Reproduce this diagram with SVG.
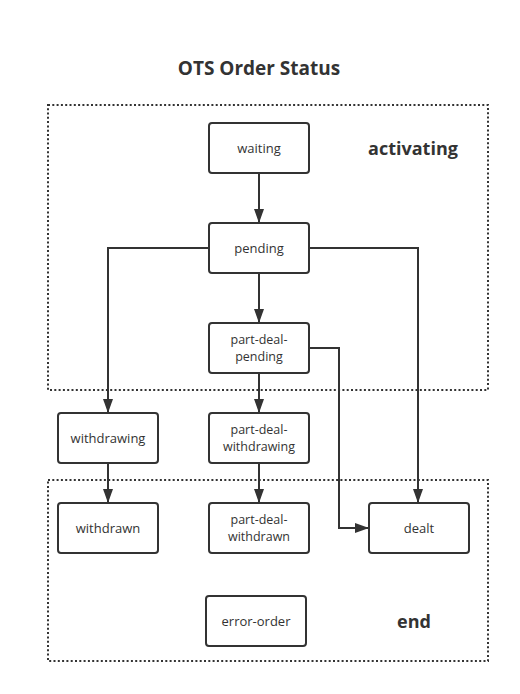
<svg xmlns="http://www.w3.org/2000/svg" width="520" height="694" viewBox="0 0 520 694">
<style>
.bg{fill:#fff}
.grp{fill:none;stroke:#333;stroke-width:2;stroke-dasharray:2 2.3}
.node rect{fill:#fff;stroke:#333;stroke-width:2}
.node text{font-family:"Open Sans","Noto Sans","Liberation Sans",sans-serif;font-size:13px;fill:#333;text-anchor:middle}
.node text.two{font-size:12.5px}
.lbl{font-family:"Open Sans","Noto Sans","Liberation Sans",sans-serif;font-weight:bold;fill:#333}
.edge{fill:none;stroke:#333;stroke-width:2}
</style>
<defs>
<marker id="arr" viewBox="0 0 14 10" refX="14" refY="5" markerWidth="14" markerHeight="10" markerUnits="userSpaceOnUse" orient="auto">
<path d="M0,0 L14,5 L0,10 Z" fill="#333"/>
</marker>
</defs>
<rect class="bg" width="520" height="694"/>
<text class="lbl" x="259" y="75" font-size="19" text-anchor="middle">OTS Order Status</text>
<g id="activating">
<rect class="grp" x="48" y="105" width="440" height="285"/>
<text class="lbl" x="413" y="155" font-size="18" text-anchor="middle">activating</text>
</g>
<g id="end">
<rect class="grp" x="48" y="480" width="440" height="181"/>
<text class="lbl" x="414" y="628" font-size="18" text-anchor="middle">end</text>
</g>
<g id="connectors">
<path class="edge" d="M259,173 V223" marker-end="url(#arr)"/>
<path class="edge" d="M209,248 H108 V413" marker-end="url(#arr)"/>
<path class="edge" d="M309,248 H418 V503" marker-end="url(#arr)"/>
<path class="edge" d="M259,273 V323" marker-end="url(#arr)"/>
<path class="edge" d="M309,348 H339 V528 H369" marker-end="url(#arr)"/>
<path class="edge" d="M259,373 V413" marker-end="url(#arr)"/>
<path class="edge" d="M108,463 V503" marker-end="url(#arr)"/>
<path class="edge" d="M259,463 V503" marker-end="url(#arr)"/>
</g>
<g id="waiting" class="node"><rect x="209" y="123" width="100" height="50" rx="3"/><text x="259" y="153">waiting</text></g>
<g id="pending" class="node"><rect x="209" y="223" width="100" height="50" rx="3"/><text x="259" y="253">pending</text></g>
<g id="part-deal-pending" class="node"><rect x="209" y="323" width="100" height="50" rx="3"/><text class="two" x="259" y="344">part-deal-<tspan x="259" dy="17">pending</tspan></text></g>
<g id="withdrawing" class="node"><rect x="58" y="413" width="100" height="50" rx="3"/><text x="108" y="443">withdrawing</text></g>
<g id="part-deal-withdrawing" class="node"><rect x="209" y="413" width="100" height="50" rx="3"/><text class="two" x="259" y="434">part-deal-<tspan x="259" dy="17">withdrawing</tspan></text></g>
<g id="withdrawn" class="node"><rect x="58" y="503" width="100" height="50" rx="3"/><text x="108" y="533">withdrawn</text></g>
<g id="part-deal-withdrawn" class="node"><rect x="209" y="503" width="100" height="50" rx="3"/><text class="two" x="259" y="524">part-deal-<tspan x="259" dy="17">withdrawn</tspan></text></g>
<g id="dealt" class="node"><rect x="369" y="503" width="100" height="50" rx="3"/><text x="419" y="533">dealt</text></g>
<g id="error-order" class="node"><rect x="206" y="596" width="100" height="50" rx="3"/><text x="256" y="626">error-order</text></g>
</svg>
